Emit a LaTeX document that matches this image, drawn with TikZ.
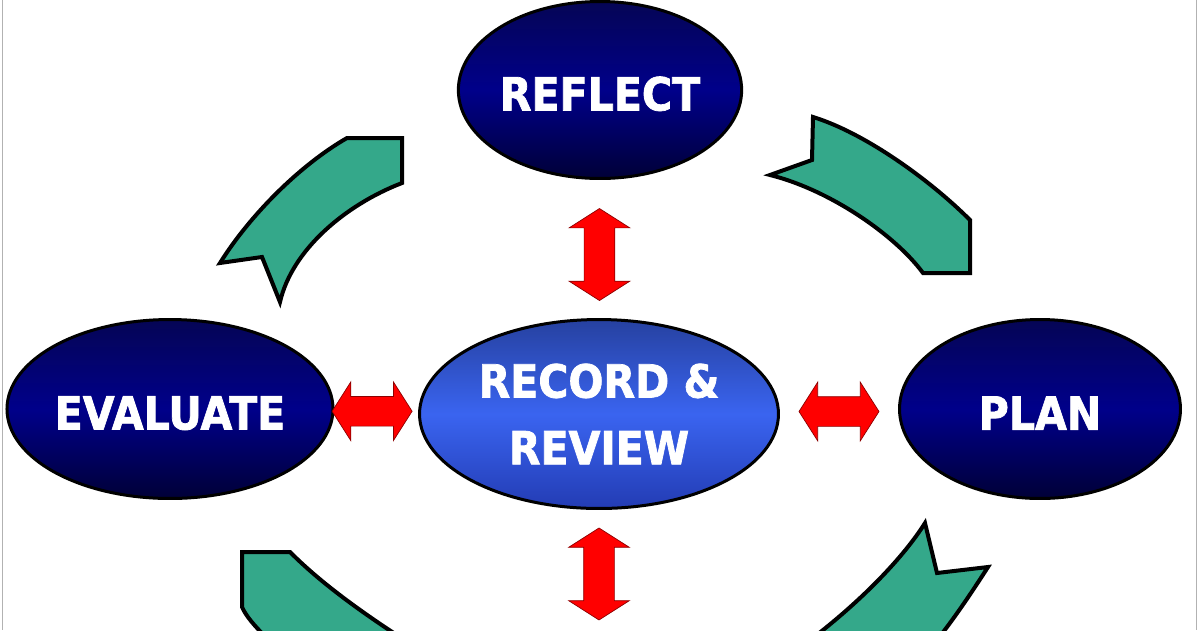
\documentclass[tikz,border=0pt]{standalone}
\usepackage{fontspec}
\usetikzlibrary{calc,shapes.geometric,shapes.arrows,positioning}
\newfontfamily\cyclefont[FakeStretch=0.9,FakeBold=1.6]{DejaVu Sans}
\definecolor{navytop}{RGB}{5,5,85}
\definecolor{navymid}{RGB}{0,0,138}
\definecolor{navybot}{RGB}{0,0,55}
\definecolor{hubtop}{RGB}{38,65,160}
\definecolor{hubmid}{RGB}{58,100,240}
\definecolor{hubbot}{RGB}{35,60,180}
\definecolor{ribbongreen}{RGB}{52,168,138}

\begin{document}
\begin{tikzpicture} [x=0.02cm,y=-0.02cm,{oval/.style={ellipse,draw=black,line width=0.6mm,text=white,font=\cyclefont\bfseries\fontsize{26}{38}\selectfont,align=center,inner sep=0pt}},{stage/.style={oval,top color=navytop,bottom color=navybot,middle color=navymid,text height=8.3mm}},{hub/.style={oval,top color=hubtop,bottom color=hubbot,middle color=hubmid}},{twoway/.style={double arrow,draw=red!55!black,fill=red,thin,inner xsep=0pt,inner ysep=3mm,double arrow head extend=3mm,double arrow tip angle=115,minimum height=18.4mm}},{ribbon/.style={fill=ribbongreen,draw=black,line width=0.8mm,line join=miter}}]
	%%frame of the picture
	\useasboundingbox [fill=white] (0,0) rectangle (1200,630);
	\clip (0,0) rectangle (1200,630);
	\draw [gray!60] (2,0) -- (2,630);
	\draw [gray!60] (1196,0) -- (1196,630);

	%%stages of the cycle
	\node [stage,minimum width=5.62cm,minimum height=3.54cm] (reflect) at (600,90) {REFLECT};
	\node [stage,minimum width=5.6cm,minimum height=3.58cm] (evaluate) at (170,409) {EVALUATE};
	\node [stage,minimum width=5.62cm,minimum height=3.58cm] (plan) at (1040,409) {PLAN};
	\node [hub,minimum width=7.18cm,minimum height=3.78cm] (record) at (599,414) {RECORD \&\\REVIEW};

	%%two way arrows
	\node [twoway,rotate=90] (upper) at ($(reflect.south)!0.54!(record.north)$) {};
	\node [twoway,rotate=90] (lower) at ($(record.south)+(0,64)$) {};
	\node [twoway,inner ysep=2.9mm,double arrow head extend=2.9mm,minimum height=16mm] (leftside) at ($(evaluate.east)!0.45!(record.west)$) {};
	\node [twoway,inner ysep=2.9mm,double arrow head extend=2.9mm,minimum height=16mm] (rightside) at ($(record.east)!0.5!(plan.west)$) {};

	%%ribbons round the cycle
	\draw [ribbon] (347,138) -- (402,138) -- (402,183) .. controls (345,205) and (292,250) .. (280,302) -- (262,257) -- (220,263) .. controls (250,215) and (300,165) .. (347,138) -- cycle;
	\draw [ribbon] (813,117) .. controls (865,133) and (930,180) .. (970,220) -- (970,273) -- (923,273) .. controls (895,235) and (830,190) .. (770,175) -- (812,160) -- cycle;
	\draw [ribbon] (242,552) -- (290,552) .. controls (320,582) and (360,612) .. (420,650) -- (300,670) .. controls (275,645) and (250,625) .. (242,607) -- cycle;
	\draw [ribbon] (790,655) .. controls (860,605) and (905,555) .. (925,523) -- (937,573) -- (988,567) .. controls (970,595) and (950,625) .. (925,655) -- cycle;
\end{tikzpicture}
\end{document}
